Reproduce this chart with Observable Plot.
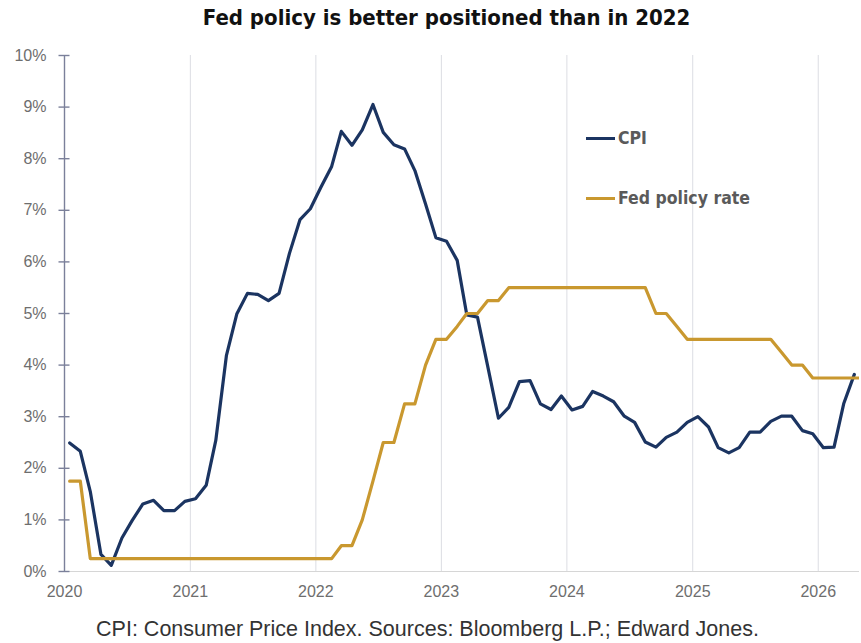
<!DOCTYPE html>
<html>
<head>
<meta charset="utf-8">
<script src="https://cdn.jsdelivr.net/npm/d3@7"></script>
<script src="https://cdn.jsdelivr.net/npm/@observablehq/plot@0.6"></script>
<style>
  html, body { margin: 0; padding: 0; background: #fff; }
  #wrap { position: relative; width: 861px; height: 643px; overflow: hidden; background: #fff; }
  #title { position: absolute; top: 5px; left: 16px; width: 861px; text-align: center;
           font-family: "DejaVu Sans Condensed", "DejaVu Sans"; font-weight: bold; font-size: 22px; color: #111; }
  #chart { position: absolute; top: 40px; left: 0; }
  .leg { position: absolute; left: 586px; height: 24px; display: flex; align-items: center;
         font-family: "DejaVu Sans Condensed", "DejaVu Sans"; font-weight: bold; font-size: 17.5px; color: #5a5a5a; }
  .leg span.sw { display: inline-block; width: 29px; height: 3px; margin-right: 3px; }
  #caption { position: absolute; top: 617px; left: -3px; width: 861px; text-align: center;
             font-family: "Liberation Sans", Arial, sans-serif; font-size: 21.5px; color: #333; }
</style>
</head>
<body>
<div id="wrap">
  <div id="title">Fed policy is better positioned than in 2022</div>
  <div id="chart"></div>
  <div class="leg" id="leg1" style="top:126px"><span class="sw" id="sw1"></span><span id="lt1"></span></div>
  <div class="leg" id="leg2" style="top:186px"><span class="sw" id="sw2"></span><span id="lt2"></span></div>
  <div id="caption">CPI: Consumer Price Index. Sources: Bloomberg L.P.; Edward Jones.</div>
</div>
<script>
// Series names and colours
const seriesNames = ["CPI", "Fed policy rate"];
const seriesColors = ["#1b3461", "#c9982f"];

// Monthly observations starting January 2020
const startMonth = "2020-01";

// CPI, year-over-year % (Jan 2020 – Apr 2026)
const cpi = [
  2.49, 2.33, 1.55, 0.33, 0.12, 0.65, 0.99, 1.31, 1.38, 1.18, 1.18, 1.36,
  1.41, 1.67, 2.54, 4.19, 4.99, 5.39, 5.37, 5.25, 5.39, 6.16, 6.82, 7.03,
  7.45, 7.85, 8.53, 8.26, 8.56, 9.05, 8.51, 8.27, 8.19, 7.77, 7.12, 6.47,
  6.40, 6.03, 4.97, 4.93, 3.97, 2.97, 3.18, 3.68, 3.70, 3.25, 3.14, 3.40,
  3.13, 3.20, 3.49, 3.40, 3.29, 3.01, 2.89, 2.51, 2.41, 2.60, 2.70, 2.89,
  3.00, 2.80, 2.40, 2.30, 2.40, 2.70, 2.70, 2.91, 3.01, 3.01, 2.73, 2.67,
  2.40, 2.41, 3.25, 3.82
];

// Fed policy rate, % (Jan 2020 – May 2026)
const fedRate = [
  1.75, 1.75, 0.25, 0.25, 0.25, 0.25, 0.25, 0.25, 0.25, 0.25, 0.25, 0.25,
  0.25, 0.25, 0.25, 0.25, 0.25, 0.25, 0.25, 0.25, 0.25, 0.25, 0.25, 0.25,
  0.25, 0.25, 0.50, 0.50, 1.00, 1.75, 2.50, 2.50, 3.25, 3.25, 4.00, 4.50,
  4.50, 4.75, 5.00, 5.00, 5.25, 5.25, 5.50, 5.50, 5.50, 5.50, 5.50, 5.50,
  5.50, 5.50, 5.50, 5.50, 5.50, 5.50, 5.50, 5.50, 5.00, 5.00, 4.75, 4.50,
  4.50, 4.50, 4.50, 4.50, 4.50, 4.50, 4.50, 4.50, 4.25, 4.00, 4.00, 3.75,
  3.75, 3.75, 3.75, 3.75, 3.75
];

// Axis ticks
const yTicks = [0, 1, 2, 3, 4, 5, 6, 7, 8, 9, 10];
const yearTicks = [2020, 2021, 2022, 2023, 2024, 2025, 2026];
const xDomainYears = [2020.0, 2026 + 4 / 12];

// ---- build table ----
const t0 = d3.utcParse("%Y-%m")(startMonth);
const monthDate = i => d3.utcDay.offset(d3.utcMonth.offset(t0, i), 15);
const rows = [];
cpi.forEach((v, i) => rows.push({series: seriesNames[0], date: monthDate(i), value: v}));
fedRate.forEach((v, i) => rows.push({series: seriesNames[1], date: monthDate(i), value: v}));
const yearDate = y => new Date(Date.UTC(Math.floor(y), Math.round((y % 1) * 12), 1));
const xDomain = xDomainYears.map(yearDate);
const yearDates = yearTicks.map(y => yearDate(y));

const chart = Plot.plot({
  width: 861,
  height: 570,
  marginTop: 15,
  marginBottom: 39,
  marginLeft: 64,
  marginRight: 2,
  style: {fontFamily: "'Liberation Sans', Arial, sans-serif", fontSize: "16px", color: "#707070", background: "transparent", overflow: "visible"},
  x: {type: "utc", domain: xDomain, label: null},
  y: {domain: [0, 10], label: null},
  marks: [
    Plot.gridX(yearDates, {stroke: "#dcdde3", strokeOpacity: 1, strokeWidth: 1}),
    Plot.ruleY([0], {stroke: "#d6d6d6", strokeWidth: 1.2}),
    Plot.ruleX([xDomain[0]], {stroke: "#7b809a", strokeWidth: 1.4}),
    Plot.axisY(yTicks, {tickSize: 11, dx: 5.5, stroke: "#7b809a", strokeWidth: 1.4, strokeOpacity: 1, tickFormat: () => "", label: null}),
    Plot.axisY(yTicks, {tickSize: 0, tickPadding: 18, tickFormat: d => d + "%", fill: "#6e6e6e", label: null}),
    Plot.axisX(yearDates, {tickSize: 0, tickPadding: 14, tickFormat: d3.utcFormat("%Y"), fill: "#6e6e6e", label: null}),
    Plot.line(rows.filter(d => d.series === seriesNames[0]), {x: "date", y: "value", stroke: seriesColors[0], strokeWidth: 3.2, clip: true}),
    Plot.line(rows.filter(d => d.series === seriesNames[1]), {x: "date", y: "value", stroke: seriesColors[1], strokeWidth: 3.2, clip: true})
  ]
});
document.getElementById("chart").appendChild(chart);

// legend
document.getElementById("sw1").style.background = seriesColors[0];
document.getElementById("sw2").style.background = seriesColors[1];
document.getElementById("lt1").textContent = seriesNames[0];
document.getElementById("lt2").textContent = seriesNames[1];
</script>
</body>
</html>
